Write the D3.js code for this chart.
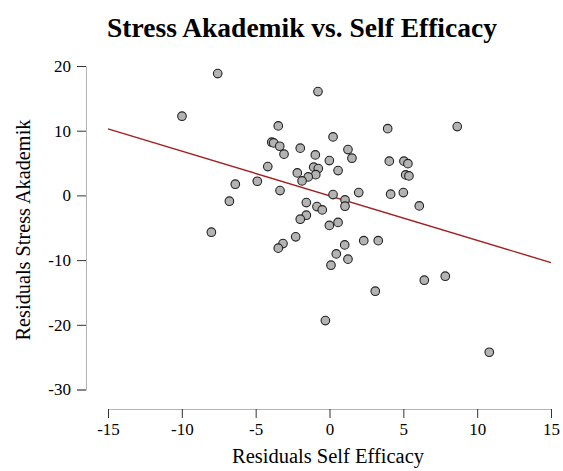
<!DOCTYPE html>
<html>
<head>
<meta charset="utf-8">
<script src="https://cdn.jsdelivr.net/npm/d3@7"></script>
<style>
  body { margin: 0; background: #fff; }
  svg { display: block; font-family: "Liberation Serif", "Times New Roman", serif; }
</style>
</head>
<body>
<div id="chart"></div>
<script>
// residuals
const residSelfEfficacy = [
  -7.57, -0.78, -9.99, -3.47, -3.91, -3.78, -3.37, -1.98, -3.08, -0.96,
  -0.01, -4.18, -1.07, -0.76, -2.18, -0.93, -1.44, -1.86, -6.38, -4.89,
  -3.35, -6.78, -1.57, -0.85, -0.49, -1.57, -1.98, -0.01, -8.00, 3.94,
  8.65, 0.24, 1.25, 1.52, 0.58, 4.05, 5.04, 5.31, 5.16, 5.38,
  0.24, 1.05, 1.05, 1.98, 4.14, 5.00, 6.08, 0.58, -2.29, -3.15,
  -3.47, 2.32, 3.30, 1.03, 0.46, 1.25, 0.10, 3.10, 6.42, 7.84,
  -0.28, 10.82
];
const residStress = [
  18.83, 16.04, 12.24, 10.74, 8.22, 8.11, 7.60, 7.30, 6.37, 6.26,
  5.38, 4.45, 4.36, 4.14, 3.48, 3.21, 2.86, 2.24, 1.73, 2.19,
  0.74, -0.90, -1.11, -1.73, -2.24, -3.06, -3.68, -4.64, -5.69, 10.32,
  10.63, 9.04, 7.08, 5.75, 3.83, 5.29, 5.29, 4.91, 3.17, 3.01,
  0.12, -0.70, -1.67, 0.43, 0.19, 0.43, -1.62, -4.17, -6.41, -7.45,
  -8.16, -6.99, -6.99, -7.65, -9.04, -9.86, -10.79, -14.81, -13.11, -12.49,
  -19.35, -24.24
];
const xTicks = [-15, -10, -5, 0, 5, 10, 15];
const yTicks = [-30, -20, -10, 0, 10, 20];
const fitIntercept = -0.05;
const fitSlope = -0.689;

const W = 563, H = 471;
const svg = d3.select("#chart").append("svg")
  .attr("width", W).attr("height", H);

const x = d3.scaleLinear().domain([-15, 15]).range([108, 551]);
const y = d3.scaleLinear().domain([-30, 20]).range([389.5, 66]);

const xAxisY = 409, yAxisX = 86;
const plainFmt = d => String(d);   // hyphen minus, like the reference

// x axis
const gx = svg.append("g")
  .attr("transform", `translate(0,${xAxisY})`)
  .call(d3.axisBottom(x).tickValues(xTicks).tickSize(9).tickPadding(5).tickFormat(plainFmt));
gx.select(".domain").attr("stroke", "#b5b5b5").attr("stroke-width", 1);
gx.selectAll(".tick line").attr("stroke", "#333");
gx.selectAll("text").attr("font-size", 17).attr("fill", "#000")
  .attr("font-family", "Liberation Serif, serif");

// y axis
const gy = svg.append("g")
  .attr("transform", `translate(${yAxisX},0)`)
  .call(d3.axisLeft(y).tickValues(yTicks).tickSize(9).tickPadding(6).tickFormat(plainFmt));
gy.select(".domain").attr("stroke", "#b5b5b5").attr("stroke-width", 1);
gy.selectAll(".tick line").attr("stroke", "#333");
gy.selectAll("text").attr("font-size", 17).attr("fill", "#000")
  .attr("font-family", "Liberation Serif, serif");

// regression line
svg.append("line")
  .attr("x1", x(-15)).attr("y1", y(fitIntercept + fitSlope * -15))
  .attr("x2", x(15)).attr("y2", y(fitIntercept + fitSlope * 15))
  .attr("stroke", "#a31f1f").attr("stroke-width", 1.4);

// points
const pts = residSelfEfficacy.map((v, i) => ({ x: v, y: residStress[i] }));
svg.append("g").selectAll("circle")
  .data(pts).enter().append("circle")
  .attr("cx", d => x(d.x))
  .attr("cy", d => y(d.y))
  .attr("r", 4.3)
  .attr("fill", "#b3b3b3")
  .attr("stroke", "#222")
  .attr("stroke-width", 1.1);

// title and labels
svg.append("text")
  .attr("x", 302).attr("y", 37)
  .attr("text-anchor", "middle")
  .attr("font-size", 27.5).attr("font-weight", "bold")
  .text("Stress Akademik vs. Self Efficacy");

svg.append("text")
  .attr("x", 328).attr("y", 463)
  .attr("text-anchor", "middle")
  .attr("font-size", 20.5)
  .text("Residuals Self Efficacy");

svg.append("text")
  .attr("transform", "rotate(-90)")
  .attr("x", -230).attr("y", 30)
  .attr("text-anchor", "middle")
  .attr("font-size", 20.3)
  .text("Residuals Stress Akademik");
</script>
</body>
</html>
